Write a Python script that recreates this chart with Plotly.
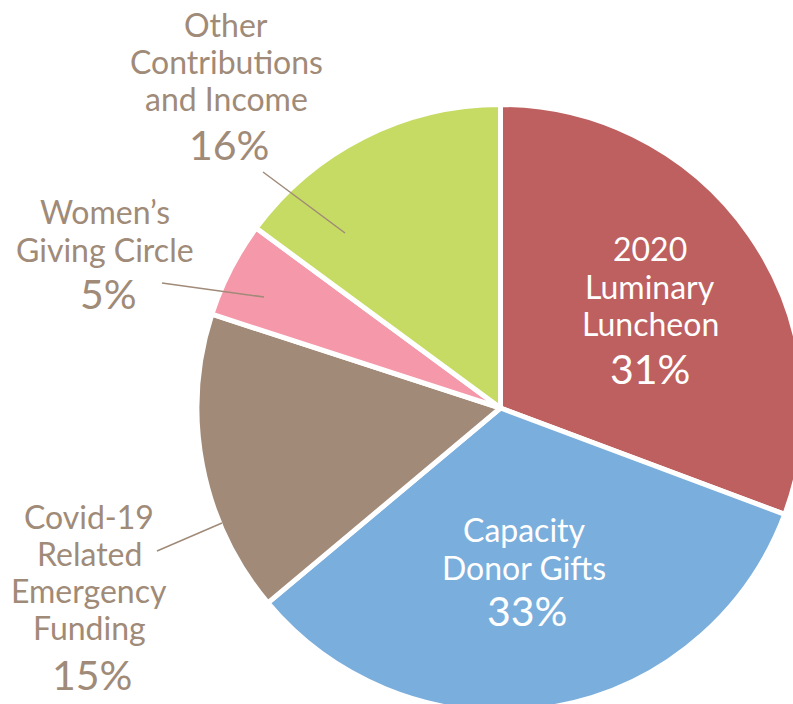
import plotly.graph_objects as go

# ---- data ----
categories = ["2020 Luminary Luncheon", "Capacity Donor Gifts",
              "Covid-19 Related Emergency Funding", "Women's Giving Circle",
              "Other Contributions and Income"]
values = [30.7, 33.2, 16.1, 5.1, 14.9]
pct_labels = ["31%", "33%", "15%", "5%", "16%"]
name_lines = [["2020", "Luminary", "Luncheon"], ["Capacity", "Donor Gifts"],
              ["Covid-19", "Related", "Emergency", "Funding"],
              ["Women\u2019s", "Giving Circle"],
              ["Other", "Contributions", "and Income"]]
colors = ["#BD605F", "#7AAEDC", "#A18A78", "#F498AA", "#C6DB63"]

# ---- layout helpers (pixel -> paper) ----
W, H = 812, 716
def px(x):
    return x / W
def py(y):
    return 1 - y / H

CX, CY, R = 500.5, 408, 303.5
TXT = "#A08A78"
FONT = "Lato, 'Noto Sans', sans-serif"
LINE = 37.2

fig = go.Figure(go.Pie(
    labels=categories, values=values, sort=False, direction="clockwise",
    rotation=0, textinfo="none", hoverinfo="label+percent",
    marker=dict(colors=colors, line=dict(color="white", width=5)),
    domain=dict(x=[px(CX - R), px(CX + R)], y=[py(CY + R), py(CY - R)]),
    showlegend=False,
))

# label placement: (name center x, name block center y, pct center y, color)
label_pos = [
    (650, 286, 368, "white"),
    (524, 548.5, 610, "white"),
    (89, 572, 674, TXT),
    (105, 230.5, 293, TXT),
    (226, 61.5, 144, TXT),
]
ann = []
for i, (x, yn, yp, c) in enumerate(label_pos):
    lines = name_lines[i]
    n = len(lines)
    for k, t in enumerate(lines):
        ann.append(dict(x=px(x), y=py(yn + (k - (n - 1) / 2) * LINE),
                        xref="paper", yref="paper", text=t, showarrow=False,
                        font=dict(family=FONT, size=32, color=c),
                        xanchor="center", yanchor="middle"))
    ann.append(dict(x=px(x + (3 if i != 0 else 0)), y=py(yp), xref="paper", yref="paper",
                    text=pct_labels[i], showarrow=False,
                    font=dict(family=FONT, size=41, color=c),
                    xanchor="center", yanchor="middle"))

leaders = [((263, 172), (345, 233)), ((162, 283), (264, 297)), ((157, 551), (222, 523))]
shapes = [dict(type="line", xref="paper", yref="paper",
               x0=px(a[0]), y0=py(a[1]), x1=px(b[0]), y1=py(b[1]),
               line=dict(color=TXT, width=1.5)) for a, b in leaders]

fig.update_layout(width=W, height=H, margin=dict(l=0, r=0, t=0, b=0),
                  paper_bgcolor="white", plot_bgcolor="white",
                  annotations=ann, shapes=shapes)

fig.write_html("out.html", post_script="document.body.style.overflow='hidden';document.documentElement.style.overflow='hidden';")
